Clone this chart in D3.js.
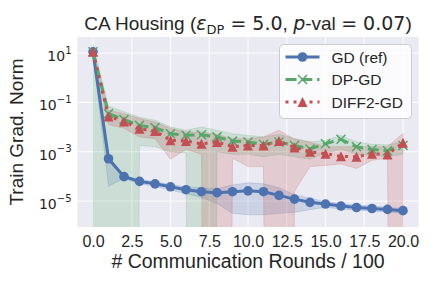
<!DOCTYPE html>
<html>
<head>
<meta charset="utf-8">
<script src="https://cdn.jsdelivr.net/npm/d3@7"></script>
<style>
  body { margin: 0; background: #fff; }
  text { font-family: "Liberation Sans", Arial, sans-serif; fill: #262626; }
</style>
</head>
<body>
<div class="chart"></div>
<script>
var svgWidth = 432;
var svgHeight = 288;

var margin = { top: 37, right: 13.5, bottom: 61, left: 77.5 };
var width = svgWidth - margin.left - margin.right;
var height = svgHeight - margin.top - margin.bottom;

// data (x = rounds / 100)
var rounds = [0, 1, 2, 3, 4, 5, 6, 7, 8, 9, 10, 11, 12, 13, 14, 15, 16, 17, 18, 19, 20];

var gdMean  = [11.2, 5.2e-4, 9.8e-5, 6.3e-5, 5.0e-5, 3.8e-5, 2.9e-5, 2.4e-5, 2.2e-5, 2.4e-5, 2.6e-5, 2.4e-5, 1.7e-5, 1.2e-5, 8.9e-6, 7.6e-6, 6.3e-6, 5.5e-6, 5.0e-6, 4.6e-6, 4.1e-6];
var gdUpper = [12.6, 6.3e-4, 1.1e-4, 7.6e-5, 6.0e-5, 4.7e-5, 3.8e-5, 3.5e-5, 3.2e-5, 4.5e-5, 5.5e-5, 5.0e-5, 3.5e-5, 1.8e-5, 1.3e-5, 9.5e-6, 7.9e-6, 6.9e-6, 6.3e-6, 5.6e-6, 5.0e-6];
var gdLower = [8.9, 4.0e-5, 8.3e-5, 5.0e-5, 4.0e-5, 2.8e-5, 2.0e-5, 1.4e-5, 7.9e-6, 3.2e-6, 2.8e-6, 2.8e-6, 3.2e-6, 3.5e-6, 4.5e-6, 5.6e-6, 4.8e-6, 4.3e-6, 3.9e-6, 3.6e-6, 3.2e-6];

var dpMean  = [11.2, 3.5e-2, 2.0e-2, 1.17e-2, 9.5e-3, 5.4e-3, 4.7e-3, 4.9e-3, 4.0e-3, 2.7e-3, 2.5e-3, 2.0e-3, 2.5e-3, 1.8e-3, 1.3e-3, 2.1e-3, 3.2e-3, 1.6e-3, 1.23e-3, 1.1e-3, 1.8e-3];
var dpUpper = [22, 7.0e-2, 4.2e-2, 2.5e-2, 1.9e-2, 1.0e-2, 7.4e-3, 1.0e-2, 7.4e-3, 5.4e-3, 4.6e-3, 4.0e-3, 5.0e-3, 3.5e-3, 2.5e-3, 2.9e-3, 4.6e-3, 2.5e-3, 2.0e-3, 1.9e-3, 2.5e-3];
var dpLower = [0, 0, 0, 1.8e-3, 1.6e-3, 1.0e-3, 8.9e-4, 0, 1.0e-3, 7.9e-4, 7.9e-4, 6.3e-4, 7.9e-4, 6.3e-4, 5.0e-4, 8.9e-4, 1.26e-3, 7.9e-4, 7.1e-4, 6.3e-4, 7.9e-4];

var diffMean  = [11.2, 2.7e-2, 1.7e-2, 8.5e-3, 6.9e-3, 2.9e-3, 2.7e-3, 2.1e-3, 2.5e-3, 1.6e-3, 1.8e-3, 1.8e-3, 2.7e-3, 1.5e-3, 1.0e-3, 8.3e-4, 6.5e-4, 6.2e-4, 8.3e-4, 7.8e-4, 2.3e-3];
var diffUpper = [15, 4.8e-2, 3.5e-2, 2.2e-2, 1.6e-2, 8.7e-3, 6.3e-3, 6.3e-3, 5.0e-3, 3.4e-3, 3.4e-3, 4.0e-3, 7.4e-3, 3.2e-3, 2.5e-3, 1.6e-3, 1.6e-3, 1.6e-3, 1.6e-3, 1.6e-3, 5.5e-3];
var diffLower = [8.0, 1.26e-2, 8.9e-3, 4.0e-3, 3.4e-3, 5.0e-4, 1.26e-3, 7.9e-4, 0, 5.4e-4, 2.5e-4, 2.5e-4, 0, 2.5e-5, 2.5e-4, 2.8e-4, 3.2e-4, 2.1e-4, 4.5e-4, 5.6e-4, 0];

var xTicks = [0, 2.5, 5, 7.5, 10, 12.5, 15, 17.5, 20];
var yTicks = [1e1, 1e-1, 1e-3, 1e-5];
var seriesNames = ["GD (ref)", "DP-GD", "DIFF2-GD"];

var series = [
    { name: seriesNames[0], mean: gdMean, lo: gdLower, hi: gdUpper, color: "#4C72B0", dash: null, marker: "circle" },
    { name: seriesNames[1], mean: dpMean, lo: dpLower, hi: dpUpper, color: "#55A868", dash: "11,4.8", marker: "x" },
    { name: seriesNames[2], mean: diffMean, lo: diffLower, hi: diffUpper, color: "#C44E52", dash: "3,5", marker: "tri" }
];

var svg = d3.select(".chart")
    .append("svg")
    .attr("width", svgWidth)
    .attr("height", svgHeight);

var chart = svg.append("g")
    .attr("transform", "translate(" + margin.left + "," + margin.top + ")");

var xScale = d3.scaleLinear().domain([-1, 21]).range([0, width]);
var yScale = d3.scaleLog().domain([Math.pow(10, -6.05), Math.pow(10, 1.65)]).range([height, 0]);

// non-positive lower bounds fall far below the axes, like matplotlib's clipping
function yPos(v) { return yScale(v > 0 ? v : 1e-100); }

chart.append("rect")
    .attr("width", width)
    .attr("height", height)
    .attr("fill", "#EAEAF2");

chart.append("clipPath").attr("id", "plotclip")
    .append("rect").attr("width", width).attr("height", height);

// grid
chart.append("g").selectAll("line.gx").data(xTicks).enter().append("line")
    .attr("x1", function(d) { return xScale(d); })
    .attr("x2", function(d) { return xScale(d); })
    .attr("y1", 0).attr("y2", height)
    .attr("stroke", "#fff").attr("stroke-width", 1);
chart.append("g").selectAll("line.gy").data(yTicks).enter().append("line")
    .attr("y1", function(d) { return yScale(d); })
    .attr("y2", function(d) { return yScale(d); })
    .attr("x1", 0).attr("x2", width)
    .attr("stroke", "#fff").attr("stroke-width", 1);

var plot = chart.append("g").attr("clip-path", "url(#plotclip)");

// bands
series.forEach(function(s) {
    var area = d3.area()
        .x(function(d, i) { return xScale(rounds[i]); })
        .y0(function(d, i) { return yPos(s.lo[i]); })
        .y1(function(d, i) { return yPos(s.hi[i]); });
    plot.append("path")
        .datum(rounds)
        .attr("d", area)
        .attr("fill", s.color)
        .attr("fill-opacity", 0.2)
        .attr("stroke", s.color)
        .attr("stroke-opacity", 0.2)
        .attr("stroke-width", 1);
});

function drawMarker(g, type, color, cx, cy) {
    if (type === "circle") {
        g.append("circle").attr("cx", cx).attr("cy", cy).attr("r", 4.8).attr("fill", color);
    } else if (type === "x") {
        g.append("path")
            .attr("d", "M" + (cx - 4.5) + "," + (cy - 4.5) + "L" + (cx + 4.5) + "," + (cy + 4.5) +
                "M" + (cx - 4.5) + "," + (cy + 4.5) + "L" + (cx + 4.5) + "," + (cy - 4.5))
            .attr("stroke", color).attr("stroke-width", 1.5).attr("fill", "none");
    } else {
        g.append("path")
            .attr("d", "M" + cx + "," + (cy - 5) + "L" + (cx + 5) + "," + (cy + 5) + "L" + (cx - 5) + "," + (cy + 5) + "Z")
            .attr("fill", color);
    }
}

// lines + markers
series.forEach(function(s) {
    var line = d3.line()
        .x(function(d, i) { return xScale(rounds[i]); })
        .y(function(d) { return yScale(d); });
    plot.append("path")
        .datum(s.mean)
        .attr("d", line)
        .attr("fill", "none")
        .attr("stroke", s.color)
        .attr("stroke-width", 3)
        .attr("stroke-dasharray", s.dash);
    var mg = plot.append("g");
    s.mean.forEach(function(v, i) {
        drawMarker(mg, s.marker, s.color, xScale(rounds[i]), yScale(v));
    });
});

// axes
var bottomAxis = d3.axisBottom(xScale).tickValues(xTicks).tickSize(0).tickPadding(9)
    .tickFormat(d3.format(".1f"));
var xAxis = chart.append("g")
    .attr("transform", "translate(0," + height + ")")
    .call(bottomAxis);
xAxis.select(".domain").remove();
xAxis.selectAll("text")
    .attr("fill", "#262626")
    .style("font-size", "16px")
    .style("font-family", "'Liberation Sans', Arial, sans-serif");

var leftAxis = d3.axisLeft(yScale).tickValues(yTicks).tickSize(0).tickFormat("");
var yAxis = chart.append("g").call(leftAxis);
yAxis.select(".domain").remove();
yAxis.selectAll(".tick").each(function(d) {
    var e = Math.round(Math.log10(d));
    var t = d3.select(this).append("text")
        .attr("x", -6)
        .attr("y", 7.5)
        .attr("text-anchor", "end")
        .style("font-family", "'DejaVu Sans', sans-serif")
        .style("font-size", "14px")
        .attr("fill", "#262626");
    t.append("tspan").text("10");
    t.append("tspan").attr("dy", -7.5).style("font-size", "10px").text(e < 0 ? "\u2212" + (-e) : String(e));
});

// labels
svg.append("text")
    .attr("transform", "translate(23," + (margin.top + height / 2) + ") rotate(-90)")
    .attr("text-anchor", "middle")
    .style("font-size", "19px")
    .text("Train Grad. Norm");

svg.append("text")
    .attr("x", margin.left + width / 2)
    .attr("y", 268)
    .attr("text-anchor", "middle")
    .style("font-size", "19.5px")
    .text("# Communication Rounds / 100");

var title = svg.append("text")
    .attr("x", margin.left + width / 2)
    .attr("y", 30)
    .attr("text-anchor", "middle")
    .style("font-size", "19px");
title.append("tspan").text("CA Housing (");
title.append("tspan").style("font-family", "'DejaVu Sans', sans-serif").style("font-style", "italic").text("\u03b5");
title.append("tspan").style("font-family", "'DejaVu Sans', sans-serif").style("font-size", "13px").attr("dy", 4).text("DP");
title.append("tspan").style("font-family", "'DejaVu Sans', sans-serif").attr("dy", -4).text(" = 5.0");
title.append("tspan").text(", ");
title.append("tspan").style("font-family", "'DejaVu Sans', sans-serif").style("font-style", "italic").text("p");
title.append("tspan").text("-val ");
title.append("tspan").style("font-family", "'DejaVu Sans', sans-serif").text("= 0.07");
title.append("tspan").text(")");

// legend
var legend = svg.append("g").attr("transform", "translate(279.5,44.5)");
legend.append("rect")
    .attr("width", 132).attr("height", 74).attr("rx", 4)
    .attr("fill", "#fff").attr("fill-opacity", 0.8)
    .attr("stroke", "#ccc").attr("stroke-width", 1);
series.forEach(function(s, i) {
    var ly = 12.5 + i * 22.5;
    legend.append("line")
        .attr("x1", 6).attr("x2", 40).attr("y1", ly).attr("y2", ly)
        .attr("stroke", s.color).attr("stroke-width", 3)
        .attr("stroke-dasharray", s.dash);
    drawMarker(legend, s.marker, s.color, 23, ly);
    legend.append("text")
        .attr("x", 52).attr("y", ly + 5.5)
        .style("font-size", "15.5px")
        .text(s.name);
});
</script>
</body>
</html>
